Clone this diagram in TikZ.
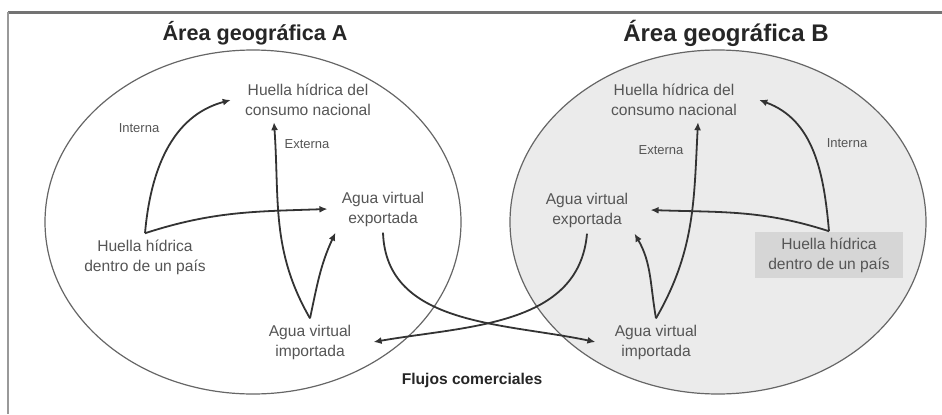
\documentclass[tikz,border=0pt]{standalone}
\usepackage{fontspec}
\setmainfont{Liberation Sans}
\usetikzlibrary{arrows.meta}

\definecolor{txtgray}{HTML}{555555}
\definecolor{areagray}{HTML}{EBEBEB}
\definecolor{boxgray}{HTML}{D6D6D6}

\begin{document}
\begin{tikzpicture}[x=0.5pt, y=0.5pt,
		etiqueta/.style={align=center, text=txtgray, inner sep=3pt, font=\fontsize{7.8}{10}\selectfont},
		nota/.style={text=txtgray, inner sep=1pt, font=\fontsize{6.5}{8}\selectfont},
		titulo/.style={text=black!85, font=\bfseries\fontsize{#1}{13}\selectfont},
		flujo/.style={draw=black!80, line width=0.9pt, -{Latex[length=4pt,width=3.5pt]}},
		area/.style={draw=black!60, line width=0.6pt}]
			\useasboundingbox (0,0) rectangle (942,414);
			\draw[black!55, line width=1.5pt] (942,402) -- (8,402);
			\draw[black!40, line width=0.6pt] (8,402) -- (8,0);
			% areas
			\draw[area] (253,192) ellipse [x radius=208, y radius=172];
			\draw[area, fill=areagray] (718,192) ellipse [x radius=208, y radius=172];
			\node[titulo=10.8] (titA) at (255,381) {Área geográfica A};
			\node[titulo=12] (titB) at (726,381) {Área geográfica B};
			% area A
			\node[etiqueta] (consA) at (308,314) {Huella hídrica del\\consumo nacional};
			\node[etiqueta] (expA) at (383,205) {Agua virtual\\exportada};
			\node[etiqueta] (dentroA) at (145,157) {Huella hídrica\\dentro de un país};
			\node[etiqueta] (impA) at (310,72) {Agua virtual\\importada};
			\node[nota] (intA) at (139,286) {Interna};
			\node[nota] (extA) at (307,270) {Externa};
			% area B
			\node[etiqueta] (consB) at (674,314) {Huella hídrica del\\consumo nacional};
			\node[etiqueta] (expB) at (587,204) {Agua virtual\\exportada};
			\node[etiqueta, fill=boxgray, minimum width=74pt, minimum height=23pt] (dentroB) at (829,159) {Huella hídrica\\dentro de un país};
			\node[etiqueta] (impB) at (656,72) {Agua virtual\\importada};
			\node[nota] (extB) at (661,264) {Externa};
			\node[nota] (intB) at (847,271) {Interna};
			\node[text=black!85, font=\bfseries\fontsize{7.8}{10}\selectfont] (flujos) at (472,34) {Flujos comerciales};
			% flujos A
			\draw[flujo] (dentroA.north) to[out=85, in=195] ([xshift=-4pt]consA.west);
			\draw[flujo] (dentroA.north) to[out=18, in=182] ([xshift=-4pt]expA.west);
			\draw[flujo] (impA.north) to[out=120, in=-86] ([xshift=-17pt]consA.south);
			\draw[flujo] (impA.north) to[out=78, in=-115] (expA.south west);
			% flujos B
			\draw[flujo] (dentroB.north) to[out=95, in=-20] ([xshift=8pt]consB.east);
			\draw[flujo] (dentroB.north) to[out=162, in=-2] ([xshift=8pt]expB.east);
			\draw[flujo] (impB.north) to[out=60, in=-93] ([xshift=12pt]consB.south);
			\draw[flujo] (impB.north) to[out=100, in=-60] (expB.south east);
			% comercio
			\draw[flujo] (expA.south) to[out=-88, in=168] ([xshift=-6.5pt]impB.west);
			\draw[flujo] (expB.south) to[out=-95, in=10] ([xshift=8pt]impA.east);
		\end{tikzpicture}
\end{document}
